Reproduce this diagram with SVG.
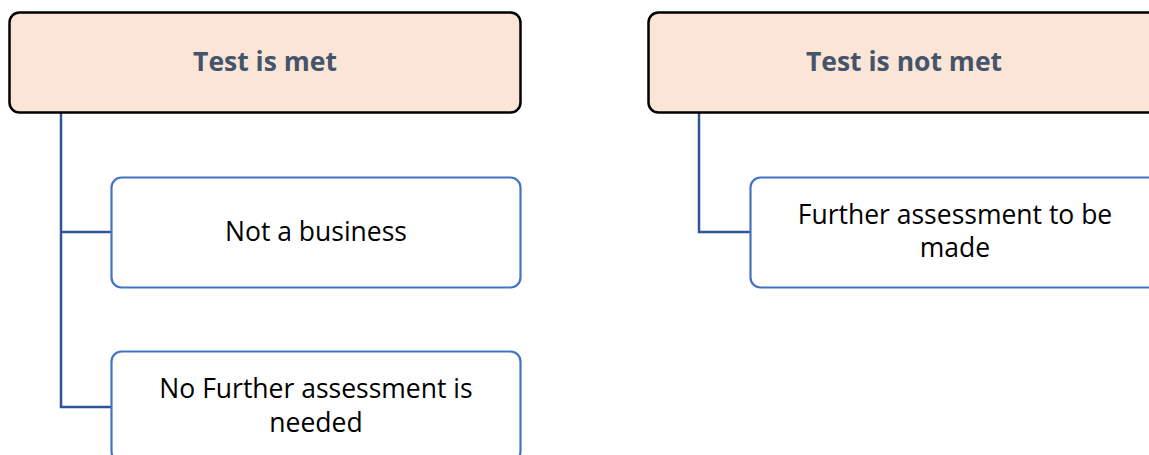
<svg xmlns="http://www.w3.org/2000/svg" width="1149" height="455" viewBox="0 0 1149 455">
  <style>
    .head rect { fill: #FBE5D6; stroke: #000; stroke-width: 2.5; }
    .head text { font-family: "Open Sans", "Liberation Sans", sans-serif; font-size: 26.5px; font-weight: bold; fill: #44546A; text-anchor: middle; }
    .item rect { fill: #fff; stroke: #4472C4; stroke-width: 2.2; }
    .item text { font-family: "Open Sans", "Liberation Sans", sans-serif; font-size: 26.5px; fill: #000; text-anchor: middle; }
    .conn path { fill: none; stroke: #2F5597; stroke-width: 2.5; }
  </style>
  <rect width="1149" height="455" fill="#fff"/>
  <g class="conn" id="connectors">
    <path d="M61 113 V407 H111"/>
    <path d="M61 232 H111"/>
    <path d="M699 113 V232 H750"/>
  </g>
  <g class="head" id="test-met">
    <rect x="9.5" y="12.5" width="511" height="100" rx="10"/>
    <text x="265" y="71">Test is met</text>
  </g>
  <g class="head" id="test-not-met">
    <rect x="648.5" y="12.5" width="512" height="100" rx="10"/>
    <text x="904" y="71">Test is not met</text>
  </g>
  <g class="item" id="not-business">
    <rect x="111.5" y="177.5" width="409" height="110" rx="10"/>
    <text x="316" y="241">Not a business</text>
  </g>
  <g class="item" id="no-further">
    <rect x="111.5" y="351.5" width="409" height="110" rx="10"/>
    <text x="316" y="398">No Further assessment is</text>
    <text x="316" y="432">needed</text>
  </g>
  <g class="item" id="further">
    <rect x="750.5" y="177.5" width="409" height="110" rx="10"/>
    <text x="955" y="224">Further assessment to be</text>
    <text x="955" y="257">made</text>
  </g>
</svg>
